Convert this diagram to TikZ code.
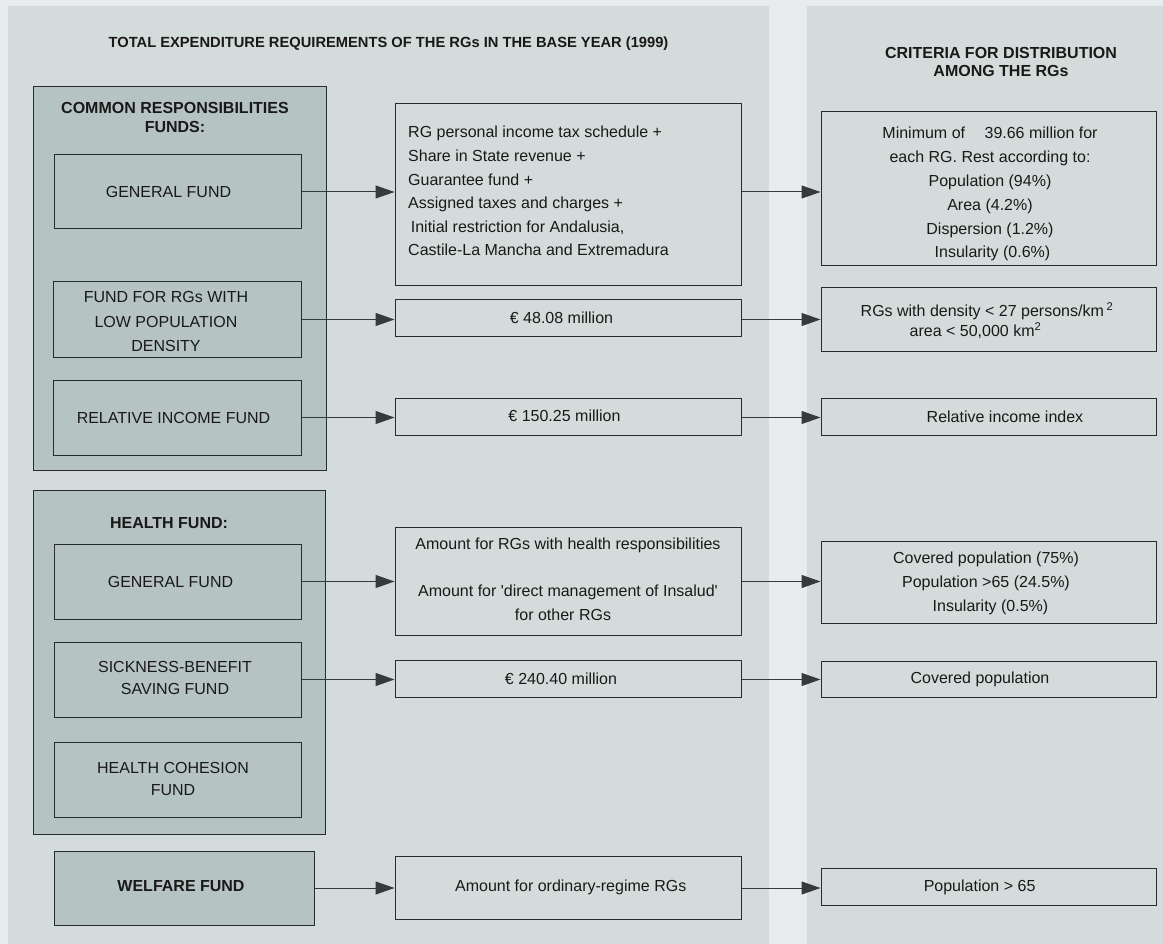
\documentclass[tikz,border=0pt]{standalone}
\usepackage{fontspec}
\setmainfont{Liberation Sans}
\usetikzlibrary{arrows.meta}
\definecolor{outerc}{RGB}{232,236,237}
\definecolor{panelc}{RGB}{212,220,219}
\definecolor{darkc}{RGB}{181,195,194}
\definecolor{linec}{RGB}{40,44,44}
\definecolor{arrc}{RGB}{55,58,58}
\definecolor{textc}{RGB}{25,25,25}
\tikzset{
  grp/.style={draw=linec, line width=1pt, fill=darkc, inner sep=0pt},
  fbox/.style={draw=linec, line width=1pt, fill=darkc, inner sep=0pt},
  lbox/.style={draw=linec, line width=1pt, fill=panelc, inner sep=0pt},
  txt/.style={font=\fontsize{16}{23.6}\selectfont, text=textc, inner sep=0pt, align=center},
  head/.style={font=\fontsize{16}{19}\selectfont\bfseries, text=textc, inner sep=0pt, align=center},
  arr/.style={draw=arrc, line width=1pt, -{Triangle[length=19pt,width=13pt]}}
}
\begin{document}
\begin{tikzpicture}[x=1pt,y=-1pt]
\useasboundingbox (0,0) rectangle (1163,944);
\fill[outerc] (0,0) rectangle (1163,944);
\fill[panelc] (8,6) rectangle (769,944);
\fill[panelc] (807,6) rectangle (1163,944);

% titles
\node[head, font=\fontsize{14.7}{18}\selectfont\bfseries, anchor=base] (title1) at (388.5,48) {TOTAL EXPENDITURE REQUIREMENTS OF THE RGs IN THE BASE YEAR (1999)};
\node[head, font=\fontsize{16}{18}\selectfont\bfseries, anchor=north] (title2) at (1001,47.2) {CRITERIA FOR DISTRIBUTION\\AMONG THE RGs};

% group boxes
\node[grp, minimum width=293pt, minimum height=383pt] (common) at (179.5,278.5) {};
\node[head, anchor=north] (commonT) at (175,102.2) {COMMON RESPONSIBILITIES\\FUNDS:};
\node[grp, minimum width=292pt, minimum height=344pt] (health) at (179,662) {};
\node[head, anchor=base] (healthT) at (169,528.8) {HEALTH FUND:};

% fund boxes
\node[fbox, minimum width=247pt, minimum height=74pt] (gf1) at (177.5,192) {};
\node[txt, anchor=base] (gf1T) at (168.5,197.7) {GENERAL FUND};
\node[fbox, minimum width=248pt, minimum height=75pt] (lowd) at (177,319.5) {};
\node[txt, font=\fontsize{16}{24.5}\selectfont, anchor=north] (lowdT) at (166,291.2) {FUND FOR RGs WITH\\LOW POPULATION\\DENSITY};
\node[fbox, minimum width=248pt, minimum height=75pt] (relinc) at (177,417.5) {};
\node[txt, anchor=base] (relincT) at (173.5,423) {RELATIVE INCOME FUND};
\node[fbox, minimum width=247pt, minimum height=75pt] (gf2) at (177.5,581.5) {};
\node[txt, anchor=base] (gf2T) at (170.5,587.4) {GENERAL FUND};
\node[fbox, minimum width=247pt, minimum height=75pt] (sick) at (177.5,679.5) {};
\node[txt, font=\fontsize{16}{22}\selectfont, anchor=north] (sickT) at (175,661.2) {SICKNESS-BENEFIT\\SAVING FUND};
\node[fbox, minimum width=247pt, minimum height=75pt] (cohes) at (177.5,779.5) {};
\node[txt, font=\fontsize{16}{22}\selectfont, anchor=north] (cohesT) at (173,762.2) {HEALTH COHESION\\FUND};
\node[fbox, minimum width=260pt, minimum height=74pt] (welf) at (184,888) {};
\node[head, anchor=base] (welfT) at (181,891.7) {WELFARE FUND};

% middle boxes
\node[lbox, minimum width=346pt, minimum height=182pt] (m1) at (568,195) {};
\node[txt, anchor=north west, align=left] (m1T) at (408,126.2) {RG personal income tax schedule +\\Share in State revenue +\\Guarantee fund +\\Assigned taxes and charges +\\\hspace*{2.7pt}Initial restriction for Andalusia,\\Castile-La Mancha and Extremadura};
\node[lbox, minimum width=346pt, minimum height=37pt] (m2) at (568,318.5) {};
\node[txt, anchor=base] (m2T) at (561.5,323.4) {€ 48.08 million};
\node[lbox, minimum width=346pt, minimum height=37pt] (m3) at (568,416.5) {};
\node[txt, anchor=base] (m3T) at (564.5,421.4) {€ 150.25 million};
\node[lbox, minimum width=346pt, minimum height=108pt] (m4) at (568,581) {};
\node[txt, font=\fontsize{16}{23.3}\selectfont, anchor=north] (m4T) at (568,538.2) {Amount for RGs with health responsibilities\\[23.6pt]Amount for \textquotesingle direct management of Insalud\textquotesingle\\\hspace*{-10pt}for other RGs};
\node[lbox, minimum width=346pt, minimum height=37pt] (m5) at (568,678.5) {};
\node[txt, anchor=base] (m5T) at (561,684.4) {€ 240.40 million};
\node[lbox, minimum width=346pt, minimum height=63pt] (m6) at (568,887.5) {};
\node[txt, anchor=base] (m6T) at (570.7,891.4) {Amount for ordinary-regime RGs};

% right boxes
\node[lbox, minimum width=335pt, minimum height=154pt] (r1) at (988.5,189) {};
\node[txt, font=\fontsize{16}{23.8}\selectfont, anchor=north] (r1T) at (990,127.2) {Minimum of\hspace{19.5pt}39.66 million for\\each RG. Rest according to:\\Population (94\%)\\Area (4.2\%)\\Dispersion (1.2\%)\\\hspace*{5pt}Insularity (0.6\%)};
\node[lbox, minimum width=335pt, minimum height=63pt] (r2) at (988.5,319.5) {};
\node[txt, font=\fontsize{16}{20}\selectfont, anchor=north] (r2T) at (987,302.2) {RGs with density < 27 persons/km\,\raisebox{0.5pt}{\textsuperscript{2}}\\area < 50,000 km\textsuperscript{2}\hspace*{23pt}};
\node[lbox, minimum width=335pt, minimum height=37pt] (r3) at (988.5,416.5) {};
\node[txt, anchor=base] (r3T) at (1005,422.7) {Relative income index};
\node[lbox, minimum width=335pt, minimum height=82pt] (r4) at (988.5,582) {};
\node[txt, font=\fontsize{16}{24}\selectfont, anchor=north] (r4T) at (986,552.2) {Covered population (75\%)\\Population >65 (24.5\%)\\\hspace*{9pt}Insularity (0.5\%)};
\node[lbox, minimum width=335pt, minimum height=36pt] (r5) at (988.5,679) {};
\node[txt, anchor=base] (r5T) at (980,683.7) {Covered population};
\node[lbox, minimum width=335pt, minimum height=37pt] (r6) at (988.5,886.5) {};
\node[txt, anchor=base] (r6T) at (979.6,891.7) {Population > 65};

% connectors
\draw[arr] (gf1.east) -- (gf1.east -| m1.west);
\draw[arr] (m1.east |- gf1.east) -- (gf1.east -| r1.west);
\draw[arr] (lowd.east) -- (lowd.east -| m2.west);
\draw[arr] (m2.east |- lowd.east) -- (lowd.east -| r2.west);
\draw[arr] (relinc.east) -- (relinc.east -| m3.west);
\draw[arr] (m3.east |- relinc.east) -- (relinc.east -| r3.west);
\draw[arr] (gf2.east) -- (gf2.east -| m4.west);
\draw[arr] (m4.east |- gf2.east) -- (gf2.east -| r4.west);
\draw[arr] (sick.east) -- (sick.east -| m5.west);
\draw[arr] (m5.east |- sick.east) -- (sick.east -| r5.west);
\draw[arr] (welf.east) -- (welf.east -| m6.west);
\draw[arr] (m6.east |- welf.east) -- (welf.east -| r6.west);
\end{tikzpicture}
\end{document}
